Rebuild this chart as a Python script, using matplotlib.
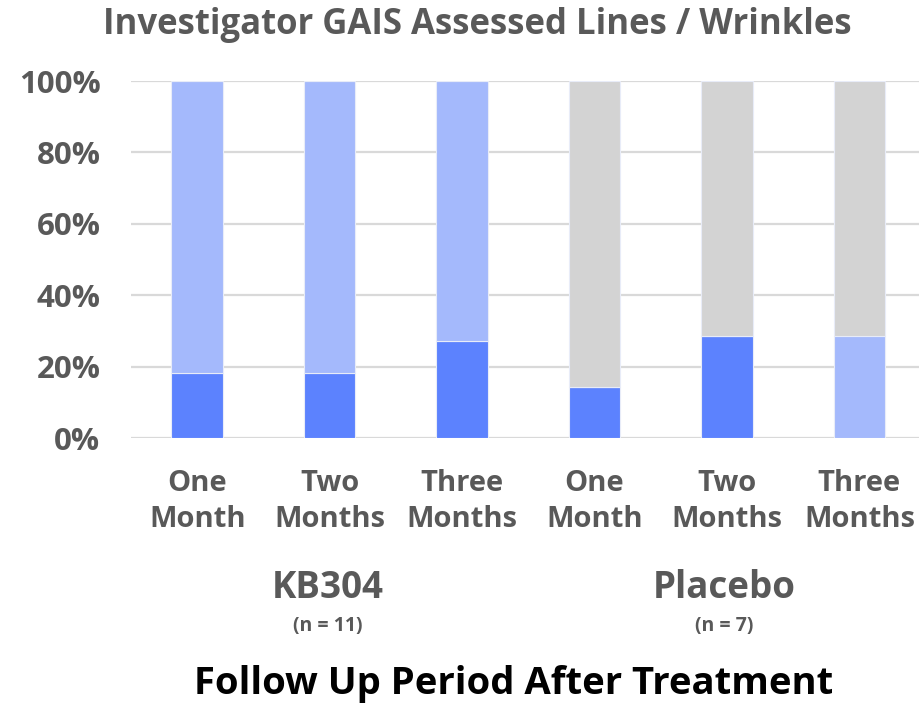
import matplotlib
matplotlib.use("Agg")
import matplotlib.pyplot as plt
import numpy as np

categories = ["One\nMonth", "Two\nMonths", "Three\nMonths", "One\nMonth", "Two\nMonths", "Three\nMonths"]
dark_blue = [18.2, 18.2, 27.3, 14.3, 28.6, 0.0]
light_blue = [81.8, 81.8, 72.7, 0.0, 0.0, 28.6]
grey = [0.0, 0.0, 0.0, 85.7, 71.4, 71.4]
yticks = [0, 20, 40, 60, 80, 100]
ytick_labels = ["0%", "20%", "40%", "60%", "80%", "100%"]
groups = ["KB304", "Placebo"]
group_n = ["(n = 11)", "(n = 7)"]

plt.rcParams['font.family'] = ['Open Sans', 'DejaVu Sans']
W, H = 919, 706
fig = plt.figure(figsize=(W/100, H/100), dpi=100)
ax = fig.add_axes([131/W, 268/H, (W-131)/W, (438-81)/H])

x = np.arange(len(categories))
bw = 0.39
c_dark, c_light, c_grey = "#5C82FE", "#A4B9FC", "#D3D3D3"
edge = dict(edgecolor="#E8ECF8", linewidth=0.8)
ax.bar(x, dark_blue, bw, color=c_dark, zorder=3, **edge)
b2 = np.array(dark_blue)
ax.bar(x, light_blue, bw, bottom=b2, color=c_light, zorder=3, **edge)
b3 = b2 + np.array(light_blue)
ax.bar(x, grey, bw, bottom=b3, color=c_grey, zorder=3, **edge)

ax.set_xlim(-0.5, 5.45)
ax.set_ylim(0, 100)
ax.set_yticks(yticks)
ax.set_yticklabels(ytick_labels)
ax.set_xticks(x)
ax.set_xticklabels(categories, linespacing=1.35)
ax.tick_params(axis='y', length=0, pad=22, labelsize=22.5, labelcolor="#595959")
ax.tick_params(axis='x', length=0, pad=22, labelsize=21, labelcolor="#595959")
for lbl in ax.get_xticklabels() + ax.get_yticklabels():
    lbl.set_fontweight('bold')
ax.yaxis.grid(True, color="#D9D9D9", linewidth=1.6, zorder=0)
ax.set_axisbelow(True)
for s in ax.spines.values():
    s.set_visible(False)

def fx(px):
    return px / W
def fy(py):
    return 1 - py / H

fig.text(fx(477), fy(25), "Investigator GAIS Assessed Lines / Wrinkles", ha='center', va='center',
         fontsize=25, fontweight='bold', color="#595959")
for xc, g, n in zip([328, 724], groups, group_n):
    fig.text(fx(xc), fy(588), g, ha='center', va='center', fontsize=26.5, fontweight='bold', color="#595959")
    fig.text(fx(xc), fy(626), n, ha='center', va='center', fontsize=14, fontweight='bold', color="#595959")
fig.text(fx(514), fy(684), "Follow Up Period After Treatment", ha='center', va='center',
         fontsize=27.5, fontweight='bold', color="#000000")

fig.savefig("out.png", dpi=100)
